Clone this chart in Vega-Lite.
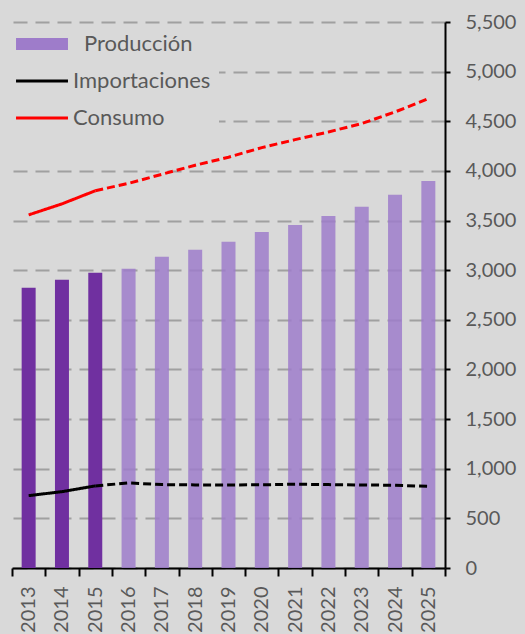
{
  "$schema": "https://vega.github.io/schema/vega-lite/v6.json",
  "width": 433,
  "height": 546,
  "autosize": {"type": "none"},
  "padding": {"left": 12, "top": 22, "right": 80, "bottom": 66},
  "background": "#D9D9D9",
  "config": {
    "font": "Lato",
    "view": {"stroke": null},
    "legend": {
      "orient": "none",
      "title": null,
      "fillColor": "#D9D9D9",
      "padding": 8,
      "labelFont": "Lato",
      "labelFontSize": 22,
      "labelColor": "#595959",
      "labelLimit": 300,
      "symbolSize": 144,
      "symbolOffset": 15,
      "rowPadding": 15,
      "zindex": 1
    }
  },
  "data": {
    "values": [
      {"anio": "2013", "serie": "Producción", "tramo": "hist", "valor": 2823},
      {"anio": "2014", "serie": "Producción", "tramo": "hist", "valor": 2903},
      {"anio": "2015", "serie": "Producción", "tramo": "hist", "valor": 2974},
      {"anio": "2016", "serie": "Producción", "tramo": "proy", "valor": 3014},
      {"anio": "2017", "serie": "Producción", "tramo": "proy", "valor": 3135},
      {"anio": "2018", "serie": "Producción", "tramo": "proy", "valor": 3206},
      {"anio": "2019", "serie": "Producción", "tramo": "proy", "valor": 3286},
      {"anio": "2020", "serie": "Producción", "tramo": "proy", "valor": 3384},
      {"anio": "2021", "serie": "Producción", "tramo": "proy", "valor": 3455},
      {"anio": "2022", "serie": "Producción", "tramo": "proy", "valor": 3545},
      {"anio": "2023", "serie": "Producción", "tramo": "proy", "valor": 3639},
      {"anio": "2024", "serie": "Producción", "tramo": "proy", "valor": 3760},
      {"anio": "2025", "serie": "Producción", "tramo": "proy", "valor": 3898},
      {"anio": "2013", "serie": "Importaciones", "tramo": "hist", "valor": 729},
      {"anio": "2014", "serie": "Importaciones", "tramo": "hist", "valor": 769},
      {"anio": "2015", "serie": "Importaciones", "tramo": "hist", "valor": 827},
      {"anio": "2015", "serie": "Importaciones", "tramo": "proy", "valor": 827},
      {"anio": "2016", "serie": "Importaciones", "tramo": "proy", "valor": 857},
      {"anio": "2017", "serie": "Importaciones", "tramo": "proy", "valor": 840},
      {"anio": "2018", "serie": "Importaciones", "tramo": "proy", "valor": 837},
      {"anio": "2019", "serie": "Importaciones", "tramo": "proy", "valor": 837},
      {"anio": "2020", "serie": "Importaciones", "tramo": "proy", "valor": 838},
      {"anio": "2021", "serie": "Importaciones", "tramo": "proy", "valor": 844},
      {"anio": "2022", "serie": "Importaciones", "tramo": "proy", "valor": 840},
      {"anio": "2023", "serie": "Importaciones", "tramo": "proy", "valor": 836},
      {"anio": "2024", "serie": "Importaciones", "tramo": "proy", "valor": 834},
      {"anio": "2025", "serie": "Importaciones", "tramo": "proy", "valor": 822},
      {"anio": "2013", "serie": "Consumo", "tramo": "hist", "valor": 3557},
      {"anio": "2014", "serie": "Consumo", "tramo": "hist", "valor": 3668},
      {"anio": "2015", "serie": "Consumo", "tramo": "hist", "valor": 3800},
      {"anio": "2015", "serie": "Consumo", "tramo": "proy", "valor": 3800},
      {"anio": "2016", "serie": "Consumo", "tramo": "proy", "valor": 3875},
      {"anio": "2017", "serie": "Consumo", "tramo": "proy", "valor": 3966},
      {"anio": "2018", "serie": "Consumo", "tramo": "proy", "valor": 4057},
      {"anio": "2019", "serie": "Consumo", "tramo": "proy", "valor": 4138},
      {"anio": "2020", "serie": "Consumo", "tramo": "proy", "valor": 4235},
      {"anio": "2021", "serie": "Consumo", "tramo": "proy", "valor": 4315},
      {"anio": "2022", "serie": "Consumo", "tramo": "proy", "valor": 4392},
      {"anio": "2023", "serie": "Consumo", "tramo": "proy", "valor": 4477},
      {"anio": "2024", "serie": "Consumo", "tramo": "proy", "valor": 4594},
      {"anio": "2025", "serie": "Consumo", "tramo": "proy", "valor": 4728}
    ]
  },
  "encoding": {
    "x": {
      "field": "anio",
      "type": "ordinal",
      "scale": {"paddingInner": 0, "paddingOuter": 0},
      "axis": {
        "title": null,
        "labelAngle": -90,
        "labelFontSize": 20,
        "labelColor": "#595959",
        "domainColor": "#000000",
        "domainWidth": 2,
        "tickColor": "#000000",
        "tickWidth": 2,
        "tickSize": 8,
        "tickBand": "extent",
        "labelPadding": 10,
        "grid": false
      }
    },
    "y": {
      "field": "valor",
      "type": "quantitative",
      "scale": {"domain": [0, 5500], "nice": false},
      "axis": {
        "orient": "right",
        "title": null,
        "values": [0, 500, 1000, 1500, 2000, 2500, 3000, 3500, 4000, 4500, 5000, 5500],
        "format": ",.0f",
        "labelFontSize": 20,
        "labelColor": "#595959",
        "domainColor": "#000000",
        "domainWidth": 2,
        "tickColor": "#000000",
        "tickWidth": 2,
        "tickSize": 5,
        "labelPadding": 15,
        "grid": true,
        "gridColor": "#A0A0A0",
        "gridWidth": 2,
        "gridDash": [14, 8]
      }
    }
  },
  "layer": [
    {
      "transform": [{"filter": "datum.serie === 'Producción'"}],
      "mark": {"type": "bar", "width": {"band": 0.42}},
      "encoding": {
        "fill": {
          "field": "serie",
          "type": "nominal",
          "scale": {"domain": ["Producción"], "range": ["#9E7CCA"]},
          "condition": {"test": "datum.tramo === 'hist'", "value": "#7030A0"},
          "legend": {
            "legendX": -4,
            "legendY": 3,
            "symbolType": "M-4.33,-1H4.33V1H-4.33Z",
            "symbolStrokeWidth": 0,
            "labelOffset": 31
          }
        },
        "opacity": {
          "condition": {"test": "datum.tramo === 'hist'", "value": 1},
          "value": 0.85
        }
      }
    },
    {
      "transform": [{"filter": "datum.serie !== 'Producción'"}],
      "mark": {"type": "line", "strokeWidth": 3, "strokeCap": "butt"},
      "encoding": {
        "stroke": {
          "field": "serie",
          "type": "nominal",
          "scale": {"domain": ["Importaciones", "Consumo"], "range": ["#000000", "#FF0000"]},
          "legend": {
            "legendX": -4,
            "legendY": 40,
            "symbolType": "M-4.33,0H4.33",
            "symbolStrokeWidth": 3,
            "labelOffset": 20
          }
        },
        "strokeDash": {
          "field": "tramo",
          "type": "nominal",
          "scale": {"domain": ["hist", "proy"], "range": [[1, 0], [8, 4]]},
          "legend": null
        }
      }
    }
  ]
}
